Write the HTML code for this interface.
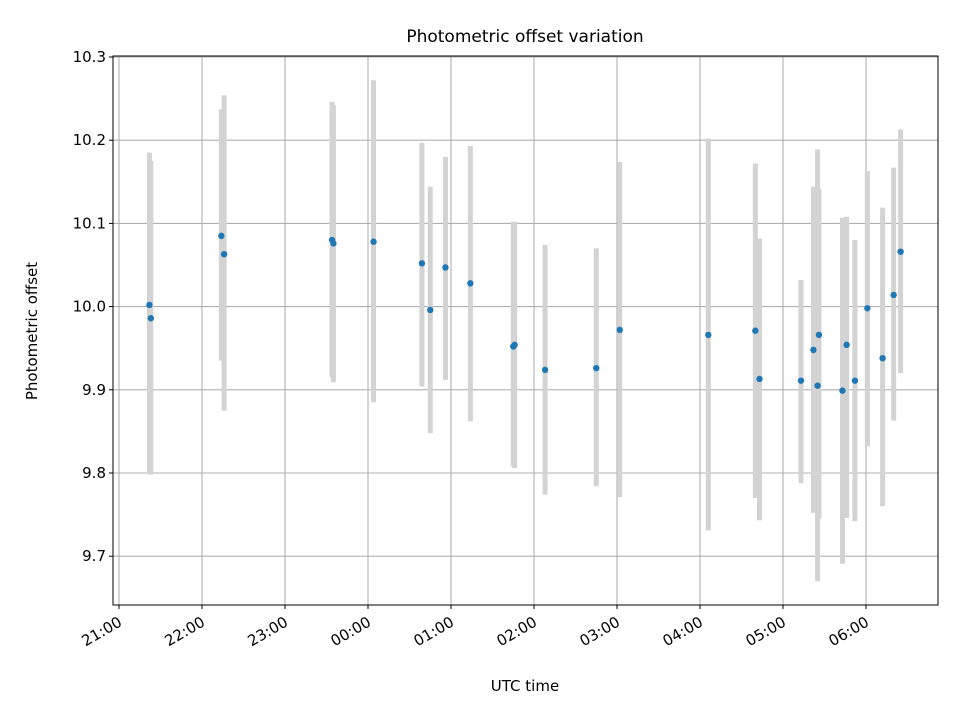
<!DOCTYPE html>
<html><head><meta charset="utf-8"><style>
body{margin:0;background:#fff;font-family:"Liberation Sans","DejaVu Sans",sans-serif}
svg text{font-family:"DejaVu Sans","Liberation Sans",sans-serif}
</style></head><body>
<svg id="chart" width="960" height="720" viewBox="0 0 960 720" xmlns="http://www.w3.org/2000/svg">
<rect width="960" height="720" fill="#fff"/>
<g id="grid"></g><g id="bars"></g><g id="pts"></g><g id="axes"></g>
<text x="525" y="42" text-anchor="middle" font-size="17">Photometric offset variation</text>
<text x="525" y="691" text-anchor="middle" font-size="15">UTC time</text>
<text transform="translate(37,331) rotate(-90)" text-anchor="middle" font-size="15">Photometric offset</text>
</svg>
<script>
const times=["21:22","21:23","22:14","22:16","23:34","23:35","24:04","24:39","24:45","24:56","25:14","25:45","25:46","26:08","26:45","27:02","28:06","28:40","28:43","29:13","29:22","29:25","29:26","29:43","29:46","29:52","30:01","30:12","30:20","30:25"];
const values=[10.002,9.986,10.085,10.063,10.080,10.076,10.078,10.052,9.996,10.047,10.028,9.952,9.954,9.924,9.926,9.972,9.966,9.971,9.913,9.911,9.948,9.905,9.966,9.899,9.954,9.911,9.998,9.938,10.014,10.066];
const lows=[9.800,9.798,9.935,9.875,9.915,9.909,9.885,9.904,9.848,9.912,9.862,9.808,9.806,9.774,9.784,9.771,9.731,9.770,9.743,9.788,9.752,9.670,9.745,9.691,9.746,9.742,9.832,9.760,9.863,9.920];
const highs=[10.185,10.175,10.237,10.254,10.246,10.242,10.272,10.197,10.144,10.180,10.193,10.102,10.102,10.074,10.070,10.174,10.202,10.172,10.082,10.032,10.144,10.189,10.141,10.107,10.108,10.080,10.163,10.119,10.167,10.213];
const yTicks=[9.7,9.8,9.9,10.0,10.1,10.2,10.3];
const xTickLabels=["21:00","22:00","23:00","00:00","01:00","02:00","03:00","04:00","05:00","06:00"];
const L=113,R=938,T=56,B=605;
const hToX=h=>119+83*h;
const tToX=t=>{const [hh,mm]=t.split(":").map(Number);return hToX(hh-21+mm/60);};
const vToY=v=>57+(10.3-v)*832;
const NS="http://www.w3.org/2000/svg";
function mk(tag,attrs,parent){const e=document.createElementNS(NS,tag);for(const k in attrs)e.setAttribute(k,attrs[k]);document.getElementById(parent).appendChild(e);return e;}
yTicks.forEach(v=>{const y=vToY(v);
 const g=mk("line",{x1:L,x2:R,y1:y,y2:y,stroke:"#b0b0b0","stroke-width":1.1},"grid");
 
 
 mk("line",{x1:L-4,x2:L,y1:y,y2:y,stroke:"#000"},"axes");
 const t=mk("text",{x:L-7,y:y+5,"text-anchor":"end","font-size":15},"axes");t.textContent=v.toFixed(1);
 
 
});
xTickLabels.forEach((s,i)=>{const x=hToX(i);
 const g=mk("line",{x1:x,x2:x,y1:T,y2:B,stroke:"#b0b0b0","stroke-width":1.1},"grid");
 
 
 mk("line",{x1:x,x2:x,y1:B,y2:B+4,stroke:"#000"},"axes");
 const t=mk("text",{transform:`translate(${x+4},${B+20}) rotate(-30)`,"text-anchor":"end","font-size":15},"axes");t.textContent=s;
 
 
});
times.forEach((t,i)=>{const x=tToX(t);
 const b=mk("line",{x1:x,x2:x,y1:vToY(highs[i]),y2:vToY(lows[i]),stroke:"#d3d3d3","stroke-width":5},"bars");
 
 
});
times.forEach((t,i)=>{const x=tToX(t);
 const c=mk("circle",{cx:x,cy:vToY(values[i]),r:3.2,fill:"#1f77b4"},"pts");
 
 
});
const f=mk("rect",{x:L,y:T,width:R-L,height:B-T,fill:"none",stroke:"#000","stroke-width":1},"axes");


</script>
</body></html>
